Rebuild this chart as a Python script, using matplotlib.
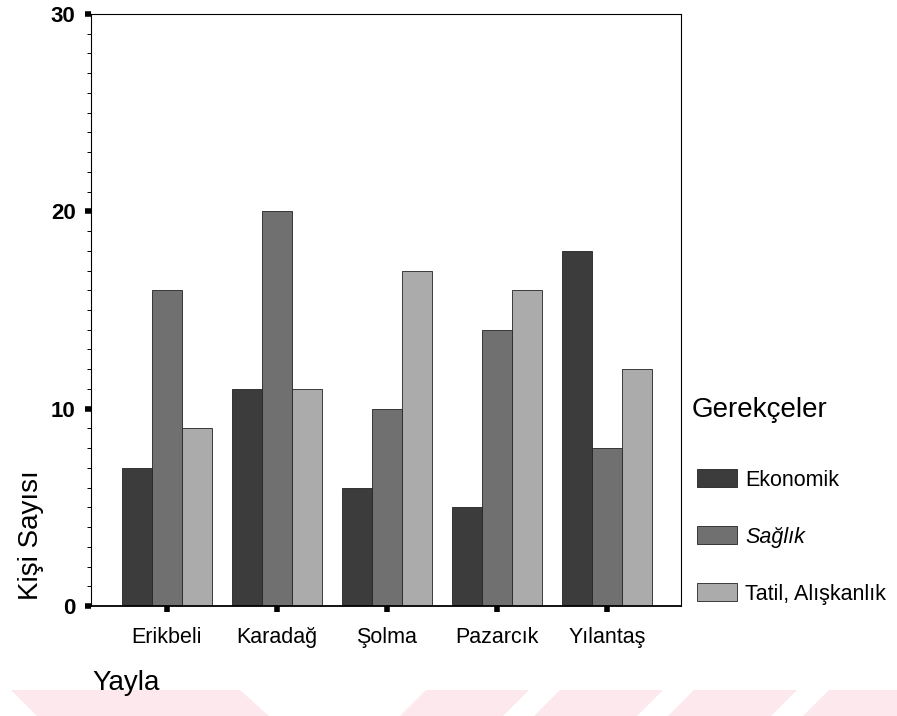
import numpy as np
import matplotlib
matplotlib.use("Agg")
from matplotlib import pyplot as plt
from matplotlib.patches import Polygon

plt.rcParams['font.family'] = ['Liberation Sans', 'DejaVu Sans']

# data
yaylalar = ["Erikbeli", "Karadağ", "Şolma", "Pazarcık", "Yılantaş"]
ekonomik = [7, 11, 6, 5, 18]
saglik = [16, 20, 10, 14, 8]
tatil = [9, 11, 17, 16, 12]
seri_adlari = ["Ekonomik", "Sağlık", "Tatil, Alışkanlık"]
renkler = ["#3c3c3c", "#707070", "#ababab"]

fig = plt.figure(figsize=(8.97, 7.16), dpi=100)
ax = fig.add_axes([0.1014, 0.1536, 0.6576, 0.8268])

x = np.arange(len(yaylalar))
w = 0.273
for i, (vals, ad, renk) in enumerate(zip([ekonomik, saglik, tatil], seri_adlari, renkler)):
    ax.bar(x + (i - 1) * w, vals, width=w, color=renk, edgecolor="#222222",
           linewidth=0.6, label=ad)

ax.set_xlim(-0.69, 4.67)
ax.set_ylim(0, 30)
ax.set_yticks([0, 10, 20, 30])
ax.set_yticks(np.arange(0, 31, 1), minor=True)
ax.set_xticks(x)
ax.set_xticklabels(yaylalar, fontsize=15.5)
ax.tick_params(axis="y", which="major", length=4, width=4, labelsize=16, pad=7)
ax.tick_params(axis="y", which="minor", length=3, width=0.7)
ax.tick_params(axis="x", length=4, width=4, pad=11)
for lab in ax.get_yticklabels():
    lab.set_fontweight("bold")
for s in ax.spines.values():
    s.set_linewidth(0.8)
ax.spines["bottom"].set_linewidth(1.3)

fig.text(0.035, 0.253, "Kişi Sayısı", rotation=90, fontsize=20, ha="center", va="center")
fig.text(0.103, 0.046, "Yayla", fontsize=20, ha="left", va="center")

# legend title drawn apart from the entries
fig.text(692 / 897, 1 - 410 / 716, "Gerekçeler", fontsize=20, ha="left", va="center")
leg = ax.legend(loc="upper left", bbox_to_anchor=(1.0275, 0.2315), frameon=False,
                fontsize=15.5, handlelength=1.86, handleheight=0.93,
                handletextpad=0.37, labelspacing=1.65, borderaxespad=0,
                borderpad=0)
leg.get_texts()[1].set_style("italic")

# pink watermark shapes at the bottom
pembe = "#fde9ed"
sekiller = [
    [(11, 690), (240, 690), (269, 716), (37, 716)],
    [(426, 690), (529, 690), (503, 716), (400, 716)],
    [(560, 690), (663, 690), (637, 716), (534, 716)],
    [(694, 690), (797, 690), (771, 716), (668, 716)],
    [(829, 690), (897, 690), (897, 716), (803, 716)],
]
for pts in sekiller:
    fig.patches.append(Polygon([(px / 897, 1 - py / 716) for px, py in pts],
                               closed=True, transform=fig.transFigure,
                               facecolor=pembe, edgecolor="none", zorder=-1))

fig.savefig("out.png", dpi=100)
